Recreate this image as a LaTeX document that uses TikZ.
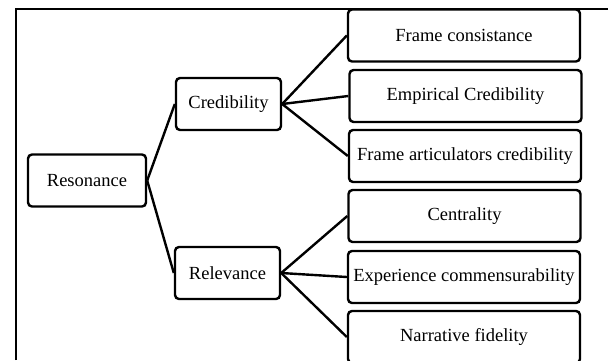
\documentclass[tikz,border=0pt]{standalone}
\usepackage{fontspec}
\setmainfont{Liberation Serif}
\usepackage{tikz}

\begin{document}
\begin{tikzpicture}[x=1pt,y=-1pt,
                    box/.style={draw,line width=2.4pt,rounded corners=4pt,
                                minimum height=52pt,inner sep=0pt,
                                font=\fontsize{18.5}{21}\selectfont},
                    leaf/.style={box,minimum width=232pt},
                    mid/.style={box,minimum width=105pt},
                    link/.style={line width=2.4pt}]
                    \useasboundingbox (0,0) rectangle (608,360);
                    \draw[line width=1.4pt] (16,360) -- (16,9) -- (608,9);
                    \node[box,minimum width=118pt] (res) at (87,180.5) {Resonance};
                    \node[mid] (cred) at (228.5,104) {Credibility};
                    \node[mid] (rel) at (227.5,273) {Relevance};
                    \node[leaf] (fc) at (464,35.5) {Frame consistance};
                    \node[leaf] (ec) at (465.5,96) {Empirical Credibility};
                    \node[leaf] (fa) at (465,156) {Frame articulators credibility};
                    \node[leaf] (cen) at (464.5,216) {Centrality};
                    \node[leaf] (exp) at (464,277) {Experience commensurability};
                    \node[leaf] (nf) at (464,337) {Narrative fidelity};
                    \draw[link] (res.east) -- (cred.west);
                    \draw[link] (res.east) -- (rel.west);
                    \draw[link] (cred.east) -- (fc.west);
                    \draw[link] (cred.east) -- (ec.west);
                    \draw[link] (cred.east) -- (fa.west);
                    \draw[link] (rel.east) -- (cen.west);
                    \draw[link] (rel.east) -- (exp.west);
                    \draw[link] (rel.east) -- (nf.west);
                \end{tikzpicture}
\end{document}
